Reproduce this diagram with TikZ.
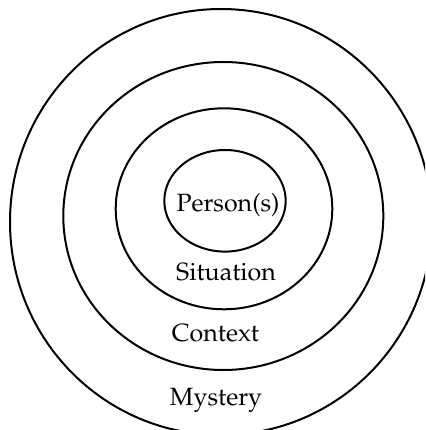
\documentclass[tikz,border=0pt]{standalone}
\usepackage[T1]{fontenc}
\usepackage{mathpazo}
\begin{document}
\begin{tikzpicture}[x=1pt,y=-1pt,
  ring/.style={draw=black,line width=2pt},
  lbl/.style={anchor=base,inner sep=0pt,font=\fontsize{25}{30}\selectfont}]
\useasboundingbox (0,0) rectangle (425,430);
\clip (0,0) rectangle (425,430);
\draw[ring] (221,222) ellipse [x radius=211,y radius=213];
\draw[ring] (223.3,216) ellipse [x radius=160,y radius=154];
\draw[ring] (224,208.8) ellipse [x radius=108.3,y radius=100.5];
\draw[ring] (225,200.8) ellipse [x radius=60.7,y radius=50.8];
\node[lbl] (person) at (228,211) {Person(s)};
\node[lbl] (situation) at (226,280) {Situation};
\node[lbl] (context) at (215.5,341.5) {Context};
\node[lbl] (mystery) at (216,405) {Mystery};
\end{tikzpicture}
\end{document}
